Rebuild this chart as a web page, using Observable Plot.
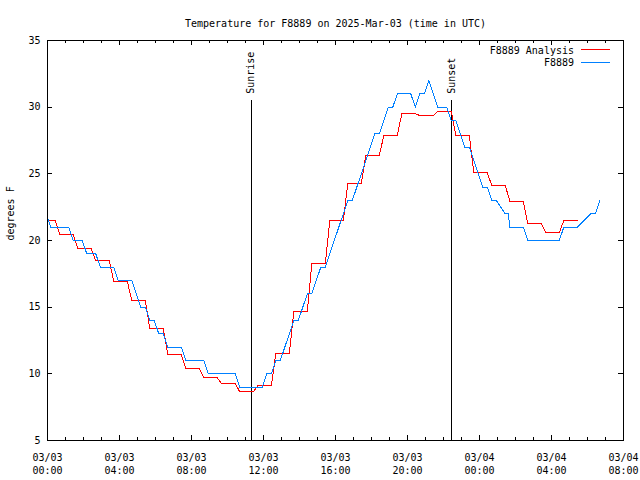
<!DOCTYPE html>
<html><head><meta charset="utf-8">
<script src="https://cdn.jsdelivr.net/npm/d3@7"></script>
<script src="https://cdn.jsdelivr.net/npm/@observablehq/plot@0.6"></script>
<style>
body{margin:0;background:#fff}
#chart svg{shape-rendering:crispEdges}
</style>
</head><body><div id="chart"></div>
<script>
const title = "Temperature for F8889 on 2025-Mar-03 (time in UTC)";
const yLabel = "degrees F";
const seriesNames = ["F8889 Analysis", "F8889"];
const seriesColors = ["#ff0000", "#0080ff"];

// Hourly analysis values (F8889 Analysis)
const analysisHours = [
  "2025-03-03T00:00Z","2025-03-03T01:00Z","2025-03-03T02:00Z","2025-03-03T03:00Z","2025-03-03T04:00Z",
  "2025-03-03T05:00Z","2025-03-03T06:00Z","2025-03-03T07:00Z","2025-03-03T08:00Z","2025-03-03T09:00Z",
  "2025-03-03T10:00Z","2025-03-03T11:00Z","2025-03-03T12:00Z","2025-03-03T13:00Z","2025-03-03T14:00Z",
  "2025-03-03T15:00Z","2025-03-03T16:00Z","2025-03-03T17:00Z","2025-03-03T18:00Z","2025-03-03T19:00Z",
  "2025-03-03T20:00Z","2025-03-03T21:00Z","2025-03-03T22:00Z","2025-03-03T23:00Z","2025-03-04T00:00Z",
  "2025-03-04T01:00Z","2025-03-04T02:00Z","2025-03-04T03:00Z","2025-03-04T04:00Z","2025-03-04T05:00Z"
];
const analysisValues = [
  21.5, 20.45, 19.375, 18.47, 16.93, 15.5, 13.4, 11.43, 10.375, 9.7,
  9.25, 8.65, 9.1, 11.5, 14.675, 18.25, 21.5, 24.25, 26.375, 27.875,
  29.5, 29.375, 29.675, 27.875, 25.075, 24.125, 22.95, 21.25, 20.575, 21.5
];

// Observations (F8889), corner points of the observed trace
const obsTimes = [
  "2025-03-02T23:56Z","2025-03-03T00:11Z","2025-03-03T01:11Z","2025-03-03T01:26Z","2025-03-03T01:56Z",
  "2025-03-03T02:11Z","2025-03-03T02:41Z","2025-03-03T02:56Z","2025-03-03T03:41Z","2025-03-03T03:56Z",
  "2025-03-03T04:41Z","2025-03-03T05:11Z","2025-03-03T05:26Z","2025-03-03T05:41Z","2025-03-03T05:56Z",
  "2025-03-03T06:11Z","2025-03-03T06:26Z","2025-03-03T06:41Z","2025-03-03T07:26Z","2025-03-03T07:41Z",
  "2025-03-03T08:41Z","2025-03-03T08:56Z","2025-03-03T10:26Z","2025-03-03T10:41Z","2025-03-03T11:56Z",
  "2025-03-03T12:11Z","2025-03-03T12:26Z","2025-03-03T12:41Z","2025-03-03T12:56Z","2025-03-03T13:41Z",
  "2025-03-03T13:56Z","2025-03-03T14:26Z","2025-03-03T14:41Z","2025-03-03T15:11Z","2025-03-03T15:26Z",
  "2025-03-03T16:41Z","2025-03-03T16:56Z","2025-03-03T18:11Z","2025-03-03T18:26Z","2025-03-03T18:56Z",
  "2025-03-03T19:11Z","2025-03-03T19:26Z","2025-03-03T20:11Z","2025-03-03T20:26Z","2025-03-03T20:41Z",
  "2025-03-03T20:56Z","2025-03-03T21:11Z","2025-03-03T21:41Z","2025-03-03T22:11Z","2025-03-03T22:26Z",
  "2025-03-03T22:41Z","2025-03-03T23:11Z","2025-03-03T23:26Z","2025-03-04T00:11Z","2025-03-04T00:26Z",
  "2025-03-04T00:41Z","2025-03-04T00:56Z","2025-03-04T01:26Z","2025-03-04T01:36Z","2025-03-04T01:41Z",
  "2025-03-04T02:26Z","2025-03-04T02:41Z","2025-03-04T04:26Z","2025-03-04T04:41Z","2025-03-04T05:26Z",
  "2025-03-04T06:11Z","2025-03-04T06:26Z","2025-03-04T06:41Z"
];
const obsValues = [
  22, 21, 21, 20, 20,
  19, 19, 18, 18, 17,
  17, 15, 15, 14, 14,
  13, 13, 12, 12, 11,
  11, 10, 10, 9, 9,
  10, 10, 11, 11, 14,
  14, 16, 16, 18, 18,
  23, 23, 28, 28, 30,
  30, 31, 31, 30, 31,
  31, 32, 30, 30, 29,
  29, 27, 27, 24, 24,
  23, 23, 22, 22, 21,
  21, 20, 20, 21, 21,
  22, 22, 23
];

const sunEvents = ["Sunrise", "Sunset"];
const sunTimes = ["2025-03-03T11:19Z", "2025-03-03T22:28Z"];

const xTickTimes = [
  "2025-03-03T00:00Z","2025-03-03T04:00Z","2025-03-03T08:00Z","2025-03-03T12:00Z","2025-03-03T16:00Z",
  "2025-03-03T20:00Z","2025-03-04T00:00Z","2025-03-04T04:00Z","2025-03-04T08:00Z"
];
const yTicks = [5, 10, 15, 20, 25, 30, 35];

// --- tables built from the arrays above ---
const MIN = 60000;
// each hourly analysis value is held from hh-0:19 to hh+0:26 (15-minute sampling at :11/:26/:41/:56)
const redTable = [];
analysisHours.forEach((h, i) => {
  const t = new Date(h).getTime();
  redTable.push({t: new Date(t - 19 * MIN), v: analysisValues[i]});
  redTable.push({t: new Date(t + 26 * MIN), v: analysisValues[i]});
});
const obsTable = obsTimes.map((t, i) => ({t: new Date(t), v: obsValues[i]}));
const sunTable = sunEvents.map((n, i) => ({name: n, t: new Date(sunTimes[i])}));
const xMajor = xTickTimes.map(d => new Date(d));
const xMinor = d3.utcHour.range(xMajor[0], new Date(+xMajor[xMajor.length - 1] + 1));

const FONT = "DejaVu Sans Mono, monospace";

const chart = Plot.plot({
  width: 640,
  height: 480,
  marginLeft: 47,
  marginRight: 17,
  marginTop: 40,
  marginBottom: 40,
  style: {fontFamily: FONT, fontSize: "10px", background: "#fff", color: "#000"},
  x: {type: "utc", domain: [xMajor[0], xMajor[xMajor.length - 1]]},
  y: {domain: [5, 35]},
  marks: [
    // tick marks (inward, mirrored)
    Plot.ruleX(xMinor, {insetTop: 397, stroke: "#000", strokeWidth: 1}),
    Plot.ruleX(xMinor, {insetBottom: 397, stroke: "#000", strokeWidth: 1}),
    Plot.ruleX(xMajor, {insetTop: 395, stroke: "#000", strokeWidth: 1}),
    Plot.ruleX(xMajor, {insetBottom: 395, stroke: "#000", strokeWidth: 1}),
    Plot.ruleY(yTicks, {insetRight: 571, stroke: "#000", strokeWidth: 1}),
    Plot.ruleY(yTicks, {insetLeft: 571, stroke: "#000", strokeWidth: 1}),
    Plot.axisX(xMajor, {tickSize: 0, tickPadding: 11, tickFormat: d3.utcFormat("%m/%d\n%H:%M"), lineHeight: 1.3, label: null, fontSize: 10}),
    Plot.axisY(yTicks, {tickSize: 0, tickPadding: 7, label: null, fontSize: 10}),
    // sunrise / sunset
    Plot.ruleX(sunTable, {x: "t", y1: 5, y2: 30.5, stroke: "#000", strokeWidth: 1}),
    Plot.text(sunTable, {x: "t", y: 31, text: "name", rotate: -90, textAnchor: "start", fontSize: 10, fill: "#000"}),
    // data
    Plot.line(redTable, {x: "t", y: "v", stroke: seriesColors[0], strokeWidth: 1, clip: true}),
    Plot.line(obsTable, {x: "t", y: "v", stroke: seriesColors[1], strokeWidth: 1, clip: true}),
    Plot.frame({stroke: "#000", strokeWidth: 1}),
    // titles
    Plot.text([title], {frameAnchor: "top", dy: -21, fontSize: 10, fill: "#000"}),
    Plot.text([yLabel], {frameAnchor: "left", dx: -37, rotate: -90, fontSize: 10, fill: "#000"})
  ]
});

// legend (top right inside the frame)
const svg = d3.select(chart);
const lg = svg.append("g").attr("font-family", FONT).attr("font-size", 10);
seriesNames.forEach((name, i) => {
  const y = 50 + i * 12.5;
  lg.append("text").attr("x", 574).attr("y", y).attr("dy", "0.35em")
    .attr("text-anchor", "end").attr("fill", "#000").text(name);
  lg.append("line").attr("x1", 581).attr("x2", 610).attr("y1", y - 0.5).attr("y2", y - 0.5)
    .attr("stroke", seriesColors[i]).attr("stroke-width", 1);
});

document.getElementById("chart").appendChild(chart);
</script>
</body></html>
